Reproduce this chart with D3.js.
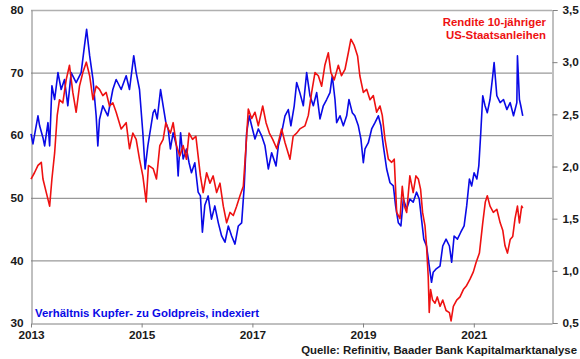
<!DOCTYPE html>
<html>
<head>
<meta charset="utf-8">
<script src="https://cdn.jsdelivr.net/npm/d3@7"></script>
<style>
  html, body { margin: 0; padding: 0; background: #fff; }
  svg { display: block; font-family: "Liberation Sans", Arial, sans-serif; }
</style>
</head>
<body>
<svg id="viz"></svg>
<script>
// Verhaeltnis Kupfer- zu Goldpreis (indexiert), linke Achse
const kupferGoldDates = [
  "2013-01-01","2013-01-14","2013-02-16","2013-02-27","2013-03-21","2013-04-01","2013-04-23","2013-05-04","2013-05-19","2013-06-06",
  "2013-06-28","2013-07-19","2013-08-10","2013-09-01","2013-09-23","2013-10-26","2013-11-28","2013-12-20","2014-01-03","2014-01-23",
  "2014-02-14","2014-03-07","2014-03-18","2014-03-29","2014-04-20","2014-05-23","2014-06-25","2014-07-17","2014-08-19","2014-09-21",
  "2014-10-13","2014-11-10","2014-11-26","2014-12-18","2015-01-09","2015-01-24","2015-02-11","2015-03-18","2015-03-29","2015-04-14",
  "2015-05-06","2015-05-23","2015-06-10","2015-06-25","2015-07-10","2015-07-28","2015-08-19","2015-08-30","2015-09-15","2015-10-02",
  "2015-10-24","2015-11-10","2015-11-26","2015-12-18","2016-01-09","2016-01-24","2016-02-06","2016-02-22","2016-03-15","2016-04-06",
  "2016-04-28","2016-05-21","2016-06-12","2016-07-04","2016-07-26","2016-08-17","2016-09-08","2016-09-30","2016-10-22","2016-11-08",
  "2016-11-24","2016-12-11","2016-12-27","2017-01-18","2017-02-09","2017-03-03","2017-03-25","2017-04-16","2017-05-08","2017-06-06",
  "2017-06-21","2017-07-13","2017-08-04","2017-08-26","2017-09-12","2017-10-04","2017-10-20","2017-11-10","2017-12-03","2017-12-25",
  "2018-01-16","2018-02-07","2018-03-01","2018-03-23","2018-04-14","2018-05-06","2018-05-28","2018-06-12","2018-06-30","2018-07-11",
  "2018-08-02","2018-08-24","2018-09-15","2018-09-30","2018-10-22","2018-11-08","2018-12-01","2018-12-18","2019-01-03","2019-01-14",
  "2019-02-05","2019-02-27","2019-03-21","2019-04-12","2019-04-29","2019-05-15","2019-06-06","2019-06-28","2019-07-20","2019-08-04",
  "2019-08-22","2019-09-08","2019-09-24","2019-10-16","2019-11-06","2019-11-28","2019-12-20","2020-01-07","2020-01-22","2020-02-06",
  "2020-02-24","2020-03-13","2020-03-28","2020-04-08","2020-04-30","2020-05-23","2020-06-10","2020-07-02","2020-07-24","2020-08-08",
  "2020-08-24","2020-09-15","2020-10-07","2020-10-29","2020-11-15","2020-12-03","2020-12-18","2021-01-03","2021-01-21","2021-02-03",
  "2021-02-16","2021-03-01","2021-03-16","2021-03-31","2021-04-18","2021-05-06","2021-05-15","2021-06-02","2021-06-24","2021-07-16",
  "2021-08-07","2021-08-29","2021-09-20","2021-10-12","2021-10-16","2021-10-29","2021-11-07","2021-11-20"
];
const kupferGoldValues = [
  60.2,58.6,63.1,61.5,59.6,58.3,62,58.3,67.9,65.7,
  70,67.3,68.9,64.7,70,68.4,70,74.3,76.9,72.7,
  68.9,63.1,58.3,62.5,64.7,63.1,67.3,68.9,67.3,69.5,
  67.3,72.7,70,67.3,60.4,54.6,58.3,63.6,64.1,62.6,
  67.3,64.7,62,61,57.8,60.4,58.3,53.5,60.4,56.2,
  57.8,55.6,54,55.6,50.9,50.3,44.5,48.8,50.3,46.6,
  48.7,46,43.9,42.9,45.5,43.9,42.6,45.5,46,51.8,
  60.4,63.1,61.5,59.4,61,59.9,58.3,54.6,57.2,55.1,
  58.3,60.4,63.1,64.1,61.5,64.7,68.4,66.8,64.7,70,
  66.3,64.7,66.8,62.6,64.7,65.7,66.8,69.5,65.7,62,
  63.1,61.5,63.1,65.7,63.6,63.1,61.5,59.4,55.6,57.8,
  58.8,61,62,63.1,61.5,58.3,54.6,52.4,51.9,48.7,
  46,45.5,49.8,48.2,49.8,49.3,50.9,49.8,46.6,43.4,
  42.3,39.1,36.5,38.1,38.7,39.1,42.3,43.4,42.3,39.7,
  43.9,43.4,44.5,45.5,48.7,53,51.9,54,53,55.1,
  60.4,66.3,64.7,63.6,65.7,69.5,71.6,66.3,65.2,65.7,
  64.1,65.2,63.1,65.2,72.7,65.7,64.7,63.1
];

// Rendite 10-jaehriger US-Staatsanleihen in %, rechte Achse
const renditeDates = [
  "2013-01-01","2013-01-24","2013-02-16","2013-03-10","2013-03-21","2013-04-12","2013-05-04","2013-05-19","2013-06-06","2013-06-23",
  "2013-07-08","2013-07-30","2013-08-21","2013-09-12","2013-10-04","2013-10-26","2013-11-17","2013-12-09","2014-01-01","2014-01-23",
  "2014-02-14","2014-03-07","2014-03-29","2014-04-20","2014-05-12","2014-06-03","2014-06-25","2014-07-17","2014-08-19","2014-09-21",
  "2014-10-13","2014-11-04","2014-11-26","2014-12-18","2015-01-09","2015-01-31","2015-02-15","2015-03-18","2015-04-09","2015-05-01",
  "2015-05-23","2015-06-10","2015-06-25","2015-07-10","2015-07-28","2015-08-19","2015-09-10","2015-10-02","2015-10-24","2015-11-10",
  "2015-12-03","2015-12-25","2016-01-09","2016-01-24","2016-02-11","2016-03-05","2016-03-27","2016-04-17","2016-05-10","2016-06-01",
  "2016-06-23","2016-07-15","2016-08-06","2016-08-28","2016-09-19","2016-10-11","2016-11-02","2016-11-20","2016-12-05","2016-12-27",
  "2017-01-18","2017-02-09","2017-03-10","2017-04-01","2017-04-23","2017-05-15","2017-06-11","2017-07-13","2017-08-04","2017-09-06",
  "2017-09-27","2017-10-20","2017-11-10","2017-12-14","2018-01-05","2018-01-27","2018-02-18","2018-03-12","2018-04-03","2018-04-24",
  "2018-05-17","2018-06-03","2018-06-25","2018-07-22","2018-08-12","2018-09-04","2018-09-26","2018-10-13","2018-11-04","2018-11-26",
  "2018-12-11","2019-01-03","2019-01-25","2019-02-16","2019-03-10","2019-04-01","2019-04-23","2019-05-08","2019-05-26","2019-06-17",
  "2019-07-09","2019-07-26","2019-08-11","2019-09-02","2019-09-17","2019-10-01","2019-10-16","2019-11-06","2019-11-28","2019-12-16",
  "2020-01-01","2020-01-16","2020-01-29","2020-02-14","2020-02-24","2020-03-06","2020-03-13","2020-03-22","2020-04-04","2020-04-20",
  "2020-05-05","2020-05-23","2020-06-10","2020-07-02","2020-07-24","2020-08-04","2020-08-19","2020-09-10","2020-10-02","2020-10-24",
  "2020-11-15","2020-12-07","2020-12-29","2021-01-16","2021-02-07","2021-03-01","2021-03-18","2021-03-31","2021-04-18","2021-05-10",
  "2021-06-02","2021-06-24","2021-07-11","2021-07-26","2021-08-11","2021-08-29","2021-09-15","2021-09-30","2021-10-16","2021-10-29",
  "2021-11-13","2021-11-20"
];
const renditeValues = [
  1.88,1.94,2.01,2.04,1.88,1.75,1.62,1.88,2.13,2.49,
  2.64,2.61,2.83,2.97,2.71,2.52,2.77,2.90,3.00,2.87,
  2.64,2.77,2.74,2.68,2.71,2.58,2.61,2.52,2.36,2.42,
  2.17,2.32,2.26,2.07,1.91,1.66,2.01,1.98,1.88,2.20,
  2.26,2.42,2.36,2.32,2.42,2.20,2.10,2.20,2.07,2.32,
  2.26,2.29,2.10,1.91,1.75,1.94,1.84,1.91,1.75,1.84,
  1.62,1.46,1.56,1.53,1.62,1.72,1.81,2.20,2.55,2.46,
  2.52,2.39,2.58,2.42,2.32,2.26,2.17,2.36,2.23,2.07,
  2.29,2.32,2.36,2.39,2.49,2.71,2.90,2.87,2.77,2.97,
  3.09,2.90,2.83,2.97,2.87,2.93,3.09,3.22,3.16,3.06,
  2.87,2.71,2.74,2.64,2.68,2.52,2.58,2.49,2.26,2.07,
  2.04,2.07,1.56,1.50,1.81,1.62,1.56,1.91,1.75,1.91,
  1.88,1.78,1.56,1.43,1.24,0.95,0.60,0.82,0.72,0.69,
  0.75,0.66,0.72,0.62,0.60,0.52,0.66,0.72,0.75,0.82,
  0.86,0.92,0.99,1.08,1.17,1.46,1.66,1.72,1.62,1.56,
  1.59,1.46,1.39,1.24,1.17,1.30,1.33,1.50,1.62,1.46,
  1.62,1.60
];

const xTickYears = [2013, 2015, 2017, 2019, 2021];
const leftTicks = [30, 40, 50, 60, 70, 80];
const rightTicks = [0.5, 1.0, 1.5, 2.0, 2.5, 3.0, 3.5];

const labelRendite = ["Rendite 10-jähriger", "US-Staatsanleihen"];
const labelKupfer = "Verhältnis Kupfer- zu Goldpreis, indexiert";
const labelQuelle = "Quelle: Refinitiv, Baader Bank Kapitalmarktanalyse";

const viz = () => {
    const width = 580
    const height = 359
    const margin = { top: 10, right: 28, bottom: 36, left: 31 }
    const labelSize = 11.4

    const parse = d3.timeParse("%Y-%m-%d")
    const kupfer = kupferGoldDates.map((d, i) => ({ date: parse(d), value: kupferGoldValues[i] }))
    const rendite = renditeDates.map((d, i) => ({ date: parse(d), value: renditeValues[i] }))

    const svg = d3.select("#viz")
        .attr("width", width)
        .attr("height", height)
        .attr("viewBox", [0, 0, width, height])

    const x = d3.scaleTime()
        .domain([new Date(2013, 0, 1), new Date(2022, 5, 1)])
        .range([margin.left, width - margin.right])

    const yLeft = d3.scaleLinear()
        .domain([30, 80])
        .range([height - margin.bottom, margin.top])

    const yRight = d3.scaleLinear()
        .domain([0.5, 3.5])
        .range([height - margin.bottom, margin.top])

    const fmtRight = v => d3.format(".1f")(v).replace(".", ",")

    // gridlines
    svg.append("g")
        .selectAll("line")
        .data(leftTicks.filter(t => t > 30))
        .join("line")
        .attr("x1", margin.left)
        .attr("x2", width - margin.right)
        .attr("y1", d => yLeft(d) + 0.5)
        .attr("y2", d => yLeft(d) + 0.5)
        .attr("stroke", d => d === 80 ? "#b0b0b0" : "#808080")
        .attr("stroke-width", d => d === 80 ? 1.5 : 1)

    const yAxisLeft = g => g
        .attr("transform", `translate(${margin.left + 0.5},0)`)
        .call(d3.axisLeft(yLeft).tickValues(leftTicks).tickSize(0).tickPadding(8))
        .call(g => g.select(".domain").attr("stroke", "#808080"))

    const yAxisRight = g => g
        .attr("transform", `translate(${width - margin.right + 0.5},0)`)
        .call(d3.axisRight(yRight).tickValues(rightTicks).tickFormat(fmtRight).tickSize(5).tickPadding(5))
        .call(g => g.select(".domain").attr("stroke", "#808080"))
        .call(g => g.selectAll(".tick line").attr("stroke", "#808080"))

    const xAxis = g => g
        .attr("transform", `translate(0,${height - margin.bottom + 0.5})`)
        .call(d3.axisBottom(x)
            .tickValues(xTickYears.map(yr => new Date(yr, 0, 1)))
            .tickFormat(d3.timeFormat("%Y"))
            .tickSize(4).tickSizeOuter(0).tickPadding(3))
        .call(g => g.select(".domain").attr("stroke", "#808080"))
        .call(g => g.selectAll(".tick line").attr("stroke", "#808080"))

    svg.append("g").call(yAxisLeft)
    svg.append("g").call(yAxisRight)
    svg.append("g").call(xAxis)

    svg.selectAll(".tick text")
        .attr("font-family", "'Liberation Sans', Arial, sans-serif")
        .attr("font-size", 11.8)
        .attr("font-weight", "bold")
        .attr("fill", "#1a1a1a")

    const lineLeft = d3.line().x(d => x(d.date)).y(d => yLeft(d.value))
    const lineRight = d3.line().x(d => x(d.date)).y(d => yRight(d.value))

    svg.append("path")
        .datum(kupfer)
        .attr("fill", "none")
        .attr("stroke", "#0a0ae6")
        .attr("stroke-width", 1.6)
        .attr("stroke-linejoin", "round")
        .attr("d", lineLeft)

    svg.append("path")
        .datum(rendite)
        .attr("fill", "none")
        .attr("stroke", "#ee1111")
        .attr("stroke-width", 1.6)
        .attr("stroke-linejoin", "round")
        .attr("d", lineRight)

    // labels
    svg.append("g")
        .attr("font-size", labelSize)
        .attr("font-weight", "bold")
        .attr("fill", "#ee1111")
        .attr("text-anchor", "end")
        .selectAll("text")
        .data(labelRendite)
        .join("text")
        .attr("x", 546)
        .attr("y", (d, i) => 25.5 + i * 13)
        .text(d => d)

    svg.append("text")
        .attr("x", 35)
        .attr("y", 317)
        .attr("font-size", labelSize)
        .attr("font-weight", "bold")
        .attr("fill", "#0a0ae6")
        .text(labelKupfer)

    svg.append("text")
        .attr("x", 577)
        .attr("y", 354)
        .attr("text-anchor", "end")
        .attr("font-size", labelSize)
        .attr("font-weight", "bold")
        .attr("fill", "#1a1a1a")
        .text(labelQuelle)
}

viz();
</script>
</body>
</html>
